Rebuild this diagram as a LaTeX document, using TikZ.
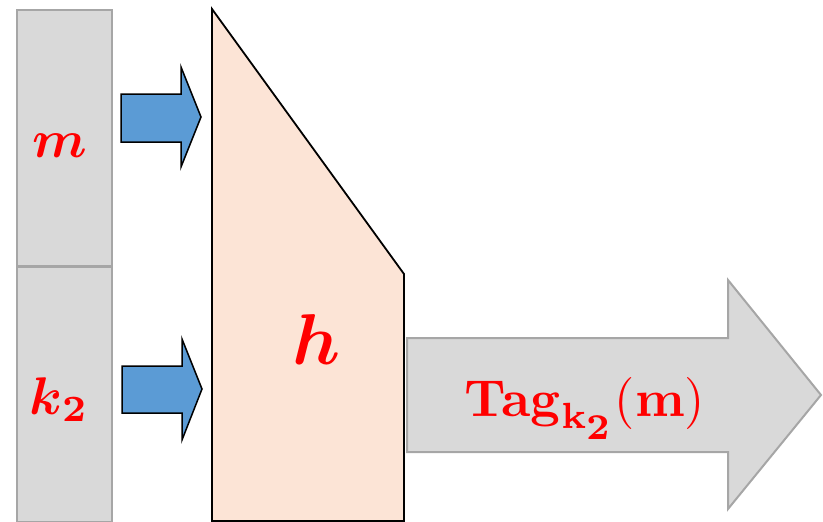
\documentclass[tikz,border=0pt]{standalone}
\usepackage{amsmath}
\definecolor{boxgray}{HTML}{D9D9D9}
\definecolor{edgegray}{HTML}{A6A6A6}
\definecolor{arrowblue}{HTML}{5B9BD5}
\definecolor{peach}{HTML}{FCE4D6}
\definecolor{labelred}{HTML}{FF0000}
\tikzset{
  cell/.style={draw=edgegray, fill=boxgray, line width=2pt, inner sep=0pt, anchor=north west},
  inarrow/.style={draw=black, fill=arrowblue, line width=1.5pt, line join=miter},
  hashbox/.style={draw=black, fill=peach, line width=1.8pt, line join=miter},
  outarrow/.style={draw=edgegray, fill=boxgray, line width=2pt, line join=miter},
  txtlbl/.style={inner sep=0pt, anchor=base}
}
\begin{document}
\begin{tikzpicture}[x=1pt,y=-1pt]
\useasboundingbox (0,0) rectangle (823,522);
% left column
\node[cell, minimum width=95pt, minimum height=256pt] (mbox) at (16,9) {};
\node[cell, minimum width=95pt, minimum height=255pt] (kbox) at (16,266) {};
% input arrows
\path[inarrow] (121,94) -- (181,94) -- (181,67) -- (201,117) -- (181,167) -- (181,142) -- (121,142) -- cycle;
\path[inarrow] (122,366) -- (182,366) -- (182,339) -- (202,389) -- (182,440) -- (182,413) -- (122,413) -- cycle;
% hash trapezoid
\path[hashbox] (212,9) -- (404,274) -- (404,521) -- (212,521) -- cycle;
% output arrow
\path[outarrow] (407,338) -- (728,338) -- (728,280) -- (821,395) -- (728,509) -- (728,452) -- (407,452) -- cycle;
% labels
\node[txtlbl] (mlabel) at (60,157) {\scalebox{5.3}{\color{labelred}$\boldsymbol{m}$}};
\node[txtlbl] (klabel) at (59,414) {\scalebox{5.3}{\color{labelred}$\boldsymbol{k}_{\boldsymbol{2}}$}};
\node[txtlbl] (hlabel) at (317,364) {\scalebox{7.2}{\color{labelred}$\boldsymbol{h}$}};
\node[txtlbl] (taglabel) at (585,416) {\scalebox{5.2}{\color{labelred}$\mathbf{Tag}_{\mathbf{k}_{\scriptstyle\mathbf{2}}}(\mathbf{m})$}};
\end{tikzpicture}
\end{document}
